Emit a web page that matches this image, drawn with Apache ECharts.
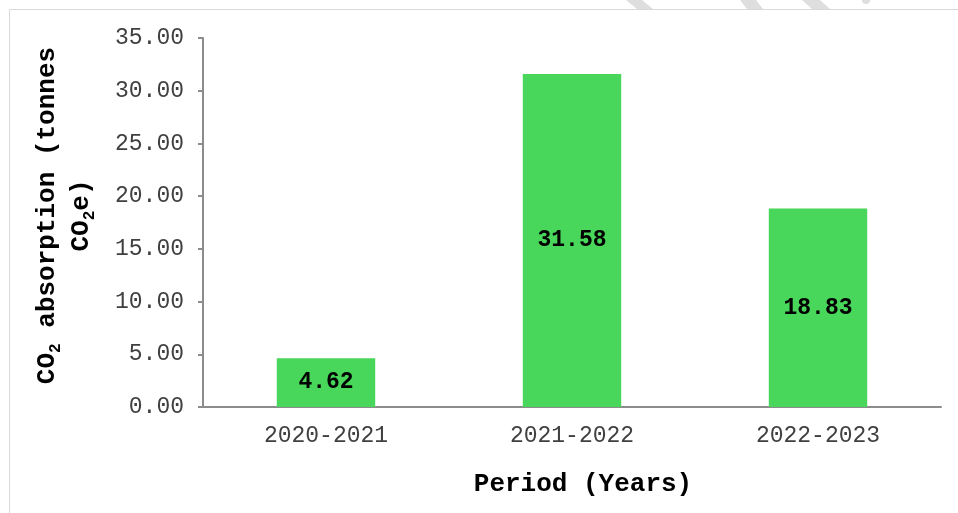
<!DOCTYPE html>
<html>
<head>
<meta charset="utf-8">
<script src="https://cdn.jsdelivr.net/npm/echarts@6/dist/echarts.min.js"></script>
<style>
	html, body { margin: 0; padding: 0; background: #fff; }
	#chart-box { width: 958px; height: 513px; }
</style>
</head>
<body>
<div id="chart-box"></div>
<script>
let periods = ["2020-2021", "2021-2022", "2022-2023"]
let absorption = [4.62, 31.58, 18.83]
let yMin = 0
let yMax = 35
let yStep = 5

let font = "'Liberation Mono', 'Courier New', monospace"
let barColor = "#48D65B"

let chart = echarts.init(document.getElementById("chart-box"))

let option = {
	animation: false,
	backgroundColor: "#fff",
	grid: {
		left: 203,
		right: 17,
		top: 38,
		bottom: 106
	},
	graphic: [
		{
			type: "rect",
			shape: { x: 9.5, y: 9.5, width: 960, height: 520 },
			style: { fill: "none", stroke: "#d9d9d9", lineWidth: 1 },
			silent: true
		},
		{
			type: "polygon",
			shape: { points: [[637, 9], [653, 9], [642, 0], [626, 0]] },
			style: { fill: "#dedede" },
			silent: true
		},
		{
			type: "polygon",
			shape: { points: [[747, 9], [763, 9], [756, 0], [740, 0]] },
			style: { fill: "#dedede" },
			silent: true
		},
		{
			type: "polygon",
			shape: { points: [[812, 9], [830, 9], [820, 0], [802, 0]] },
			style: { fill: "#dedede" },
			silent: true
		},
		{
			type: "circle",
			shape: { cx: 866, cy: 0, r: 4 },
			style: { fill: "#dedede" },
			silent: true
		}
	],
	xAxis: {
		type: "category",
		data: periods,
		name: "Period (Years)",
		nameLocation: "middle",
		nameGap: 64,
		nameTextStyle: {
			fontFamily: font,
			fontSize: 26,
			fontWeight: "bold",
			color: "#000",
			padding: [0, 0, 0, 22]
		},
		axisLine: { lineStyle: { color: "#8c8c8c", width: 2 } },
		axisTick: { show: false },
		axisLabel: {
			fontFamily: font,
			fontSize: 23,
			color: "#404040",
			margin: 17
		}
	},
	yAxis: {
		type: "value",
		min: yMin,
		max: yMax,
		interval: yStep,
		name: "{b|CO}{s|2}{b| absorption (tonnes}\n{b|CO}{s|2}{b|e)}",
		nameLocation: "middle",
		nameRotate: 90,
		nameGap: 105,
		nameTextStyle: {
			fontFamily: font,
			fontWeight: "bold",
			color: "#000",
			lineHeight: 34,
			padding: [0, 0, 0, 14],
			rich: {
				b: { fontFamily: font, fontSize: 26, fontWeight: "bold", color: "#000", lineHeight: 34 },
				s: { fontFamily: font, fontSize: 16, fontWeight: "bold", color: "#000", lineHeight: 26, verticalAlign: "bottom" }
			}
		},
		splitLine: { show: false },
		axisLine: { show: true, lineStyle: { color: "#8c8c8c", width: 2 } },
		axisTick: { show: true, length: 5, lineStyle: { color: "#8c8c8c", width: 2 } },
		axisLabel: {
			fontFamily: font,
			fontSize: 23,
			color: "#404040",
			margin: 19,
			formatter: function (v) {
				return v.toFixed(2)
			}
		}
	},
	series: [
		{
			type: "bar",
			data: absorption,
			barWidth: "40%",
			itemStyle: { color: barColor },
			label: {
				show: true,
				position: "inside",
				fontFamily: font,
				fontSize: 23,
				fontWeight: "bold",
				color: "#000",
				formatter: function (p) {
					return p.value.toFixed(2)
				}
			}
		}
	]
}
chart.setOption(option)
</script>
</body>
</html>
